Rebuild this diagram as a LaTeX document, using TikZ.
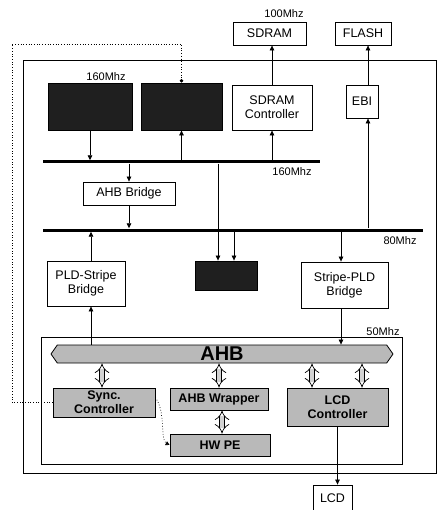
\documentclass[tikz,border=0pt]{standalone}
\usepackage{fontspec}
\setmainfont{Liberation Sans}
\usetikzlibrary{arrows.meta,shapes.symbols}
\begin{document}
\begin{tikzpicture}[x=1pt,y=-1pt,
  every node/.style={font=\fontsize{12.5}{14}\selectfont},
  blk/.style={draw,thick,fill=white,align=center,inner sep=0pt},
  hidden/.style={draw,thick,fill=black!88,inner sep=0pt},
  ipbox/.style={draw,thick,fill=gray!55,align=center,inner sep=0pt,font=\bfseries\fontsize{12.5}{14}\selectfont},
  bus/.style={fill=black,inner sep=0pt,minimum height=3pt},
  freq/.style={font=\fontsize{11}{12}\selectfont,inner sep=0pt},
  conn/.style={line width=0.7pt,-{Triangle[length=5pt,width=4.5pt]}},
  dbl/.style={line width=0.7pt,double=gray!35,double distance=4.5pt,{Implies}-{Implies}},
  dots/.style={line width=0.7pt,dotted}]
  \useasboundingbox (0,0) rectangle (439,510);
  % outer chip and stripe
  \draw[thick] (23,60) rectangle (436,473);
  \draw[thick] (41,337) rectangle (402,464);
  % external memory
  \node[blk,minimum width=73pt,minimum height=23pt] (sdram) at (269.5,33.5) {SDRAM};
  \node[blk,minimum width=56pt,minimum height=23pt] (flash) at (363,33.5) {FLASH};
  \node[freq] (f100) at (284,14) {100Mhz};
  % 160Mhz domain
  \node[freq] (f160a) at (106,77) {160Mhz};
  \node[hidden,minimum width=84pt,minimum height=47pt] (cpu) at (90,106.5) {};
  \node[hidden,minimum width=81pt,minimum height=47pt] (sram) at (181.5,106.5) {};
  \node[blk,minimum width=80pt,minimum height=45pt] (sdramc) at (272,107.5) {SDRAM\\Controller};
  \node[blk,minimum width=32pt,minimum height=33pt] (ebi) at (362,101.5) {EBI};
  \node[bus,minimum width=277pt] (bus160) at (181.5,162) {};
  \node[freq] (f160b) at (292,172) {160Mhz};
  \node[blk,minimum width=92pt,minimum height=23pt] (ahbbr) at (129,193.5) {AHB Bridge};
  \node[bus,minimum width=380pt] (bus80) at (233,230) {};
  \node[freq] (f80) at (400,241) {80Mhz};
  \node[blk,minimum width=78pt,minimum height=45pt] (pldsb) at (86,283.5) {PLD-Stripe\\Bridge};
  \node[hidden,minimum width=62pt,minimum height=29pt] (periph) at (226,275.5) {};
  \node[blk,minimum width=87pt,minimum height=46pt] (spldb) at (344.5,285) {Stripe-PLD\\Bridge};
  \node[freq] (f50) at (383,332) {50Mhz};
  % PLD side
  \node[signal,signal to=east and west,signal pointer angle=110,draw,thick,fill=gray!55,
        minimum width=342pt,minimum height=18pt,inner sep=0pt,
        font=\bfseries\fontsize{20}{20}\selectfont] (ahb) at (222,354) {AHB};
  \node[ipbox,minimum width=102pt,minimum height=29pt] (sync) at (104,402.5) {Sync.\\Controller};
  \node[ipbox,minimum width=98pt,minimum height=22pt] (wrap) at (219,399) {AHB Wrapper};
  \node[ipbox,minimum width=100pt,minimum height=22pt] (hwpe) at (220,445) {HW PE};
  \node[ipbox,minimum width=101pt,minimum height=38pt] (lcdc) at (337.5,407) {LCD\\Controller};
  \node[blk,minimum width=39pt,minimum height=27pt] (lcd) at (332.5,498.5) {LCD};
  % connectors
  \draw[conn] (cpu.south) -- (cpu.south |- bus160.north);
  \draw[conn] (sram.south |- bus160.north) -- (sram.south);
  \draw[conn] (bus160.north -| sdramc.south) -- (sdramc.south);
  \draw[conn] (sdramc.north) -- (sdramc.north |- sdram.south);
  \coordinate (ebix) at (368,0);
  \draw[conn] (bus80.north -| ebix) -- (ebi.south -| ebix);
  \draw[conn] (ebi.north -| ebix) -- (flash.south -| ebix);
  \draw[conn] (bus160.south -| ahbbr.north) -- (ahbbr.north);
  \draw[conn] (ahbbr.south) -- (ahbbr.south |- bus80.north);
  \coordinate (px1) at (218,0);
  \coordinate (px2) at (234,0);
  \draw[conn] (bus160.south -| px1) -- (periph.north -| px1);
  \draw[conn] (bus80.south -| px2) -- (periph.north -| px2);
  \coordinate (plx) at (91,0);
  \draw[conn] (pldsb.north -| plx) -- (bus80.south -| plx);
  \draw[conn] (ahb.north -| plx) -- (pldsb.south -| plx);
  \coordinate (spx) at (341,0);
  \draw[conn] (bus80.south -| spx) -- (spldb.north -| spx);
  \draw[conn] (spldb.south -| spx) -- (ahb.north -| spx);
  \draw[dbl] (ahb.south -| 102,0) -- (sync.north -| 102,0);
  \draw[dbl] (ahb.south -| wrap.north) -- (wrap.north);
  \draw[dbl] (ahb.south -| 312,0) -- (lcdc.north -| 312,0);
  \draw[dbl] (ahb.south -| 362,0) -- (lcdc.north -| 362,0);
  \draw[dbl] (wrap.south -| 222,0) -- (hwpe.north -| 222,0);
  \draw[conn] (lcdc.south) -- (lcdc.south |- lcd.north);
  \draw[dots,-{Triangle[length=4pt,width=4pt]}] ([yshift=5pt]sync.east) .. controls (166,412) and (160,440) .. (hwpe.west);
  \draw[dots,-{Circle[length=3.5pt]}] (sync.west) -| (12,44) -| (sram.north);
\end{tikzpicture}
\end{document}
